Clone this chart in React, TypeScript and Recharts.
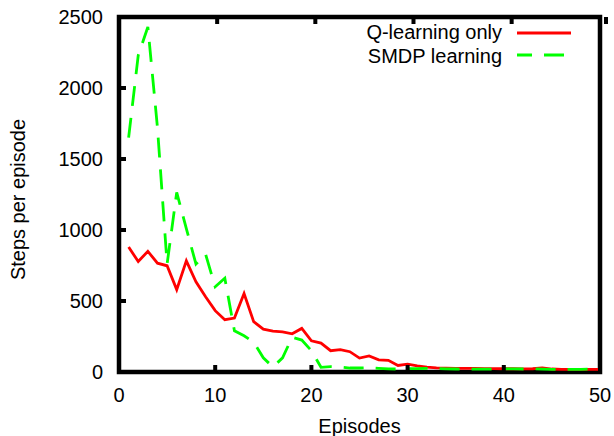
import { LineChart, Line, XAxis, YAxis, Legend, ReferenceArea } from 'recharts'

const episodes = [
  1, 2, 3, 4, 5, 6, 7, 8, 9, 10, 11, 12, 13, 14, 15, 16, 17, 18, 19, 20, 21, 22, 23, 24, 25,
  26, 27, 28, 29, 30, 31, 32, 33, 34, 35, 36, 37, 38, 39, 40, 41, 42, 43, 44, 45, 46, 47, 48, 49, 50,
]

const qLearning = [
  880, 778, 850, 766, 748, 580, 783, 635, 530, 432, 368, 380, 553, 354, 302, 288, 283, 269, 307, 220, 204, 150, 157, 143, 98,
  113, 86, 82, 46, 56, 43, 34, 29, 27, 26, 25, 25, 24, 24, 23, 23, 22, 23, 29, 21, 19, 18, 18, 18, 19,
]

const smdp = [
  1650, 2230, 2430, 1720, 760, 1265, 1010, 760, 830, 600, 660, 290, 255, 210, 100, 35, 100, 245, 225, 150, 33, 38, 36, 28, 28,
  30, 26, 22, 21, 24, 24, 25, 24, 22, 21, 20, 20, 20, 21, 22, 22, 21, 22, 20, 19, 19, 19, 19, 21, 24,
]

const xTicks = [0, 10, 20, 30, 40, 50]
const yTicks = [0, 500, 1000, 1500, 2000, 2500]

const data = episodes.map((ep, i) => ({ ep, q: qLearning[i], smdp: smdp[i] }))

const font = '"Liberation Sans", Arial, sans-serif'
const MARK = 7

// gnuplot-style ticks: short marks pointing into the box, labels outside
function BottomTick({ x, y, payload }: any) {
  return (
    <g>
      <rect x={x - 2} y={y - MARK} width={4} height={MARK} fill="#000" />
      <text x={x} y={y + 30} textAnchor="middle" fontSize={20} fontFamily={font} fill="#000">{payload.value}</text>
    </g>
  )
}

function LeftTick({ x, y, payload }: any) {
  return (
    <g>
      <rect x={x} y={y - 2} width={MARK} height={4} fill="#000" />
      <text x={x - 16} y={y} textAnchor="end" dominantBaseline="central" fontSize={20} fontFamily={font} fill="#000">{payload.value}</text>
    </g>
  )
}

function TopTick({ x, y }: any) {
  return <rect x={x - 2} y={y} width={4} height={MARK} fill="#000" />
}

function RightTick({ x, y }: any) {
  return <rect x={x - MARK} y={y - 2} width={MARK} height={4} fill="#000" />
}

function KeyBox({ payload }: any) {
  const items = payload || []
  return (
    <svg width={250} height={52} style={{ display: 'block' }}>
      {items.map((p: any, i: number) => (
        <g key={p.value}>
          <text x={172} y={19 + i * 24} textAnchor="end" fontSize={20} fontFamily={font} fill="#000">
            {p.value}
          </text>
          <line
            x1={187} x2={241} y1={13 + i * 22} y2={13 + i * 22}
            stroke={p.color} strokeWidth={2.8}
            strokeDasharray={p.payload?.strokeDasharray}
            strokeDashoffset={5}
          />
        </g>
      ))}
    </svg>
  )
}

const bare = { axisLine: false, tickLine: false, tickSize: 0, tickMargin: 0 }

export default function App() {
  return (
    <div style={{ position: 'absolute', left: 0, top: 0, width: 614, height: 436, background: '#fff' }}>
      <LineChart width={614} height={436} data={data} margin={{ top: 16, right: 13, bottom: 14, left: 0 }}>
        <XAxis
          {...bare}
          dataKey="ep" type="number" domain={[0, 50]} ticks={xTicks} height={50}
          tick={<BottomTick />}
          label={{
            content: ({ viewBox }: any) => (
              <text x={viewBox.x + viewBox.width / 2} y={433} textAnchor="middle" fontSize={20} fontFamily={font} fill="#000">
                Episodes
              </text>
            ),
          }}
        />
        <XAxis
          {...bare}
          xAxisId="top" orientation="top" type="number" domain={[0, 50]} ticks={xTicks} height={1}
          tick={<TopTick />}
        />
        <YAxis
          {...bare}
          type="number" domain={[0, 2500]} ticks={yTicks} width={119}
          tick={<LeftTick />}
          label={{
            content: ({ viewBox }: any) => {
              const cy = viewBox.y + viewBox.height / 2 + 5
              return (
                <text x={18} y={cy} transform={`rotate(-90, 18, ${cy})`} textAnchor="middle" dominantBaseline="central" fontSize={20} fontFamily={font} fill="#000">
                  Steps per episode
                </text>
              )
            },
          }}
        />
        <YAxis
          {...bare}
          yAxisId="right" orientation="right" type="number" domain={[0, 2500]} ticks={yTicks} width={1}
          tick={<RightTick />}
        />
        <ReferenceArea x1={0} x2={50} y1={0} y2={2500} fill="none" stroke="#000" strokeWidth={4.5} ifOverflow="visible" />
        <Legend
          layout="vertical" align="center" verticalAlign="middle"
          wrapperStyle={{ position: 'absolute', top: 20, left: 330, width: 250, height: 52 }}
          content={<KeyBox />}
        />
        <Line type="linear" dataKey="q" name="Q-learning only" stroke="#ff0000" strokeWidth={2.8} dot={false} isAnimationActive={false} />
        <Line type="linear" dataKey="smdp" name="SMDP learning" stroke="#00ff00" strokeWidth={2.8} strokeDasharray="20 12" dot={false} isAnimationActive={false} />
      </LineChart>
    </div>
  )
}
